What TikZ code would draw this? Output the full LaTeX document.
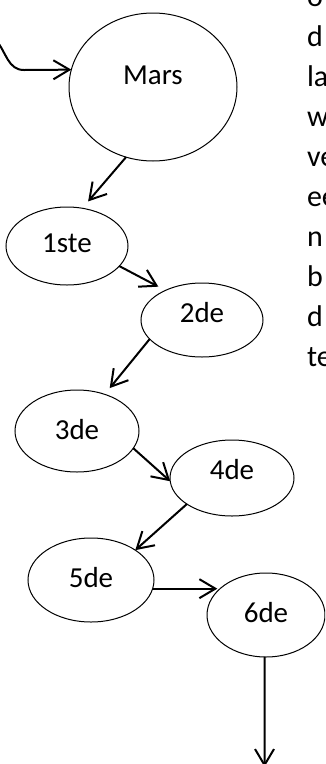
\documentclass[tikz,border=0pt]{standalone}
\usepackage{fontspec}
\setmainfont{Carlito}
\usetikzlibrary{arrows.meta,shapes.geometric}
\begin{document}
\begin{tikzpicture}[x=1pt,y=-1pt,inner sep=0pt,outer sep=0pt,line width=2pt,
>={Straight Barb[length=16pt,width=19pt]},font=\fontsize{29}{35}\selectfont,
stage/.style={draw,ellipse,line width=1pt,text height=20pt,text depth=#1},
sidetext/.style={anchor=base west,font=\fontsize{30}{36}\selectfont}]
\useasboundingbox (0,0) rectangle (325,764);
\clip (0,0) rectangle (325,764);
\draw (153,87) node[stage=26pt,minimum width=168pt,minimum height=148pt] (M) {Mars};
\draw (67,246) node[stage=8pt,minimum width=122pt,minimum height=78pt] (S1) {1ste};
\draw (202,320) node[stage=16pt,minimum width=122pt,minimum height=74pt] (S2) {2de};
\draw (77,431) node[stage=4pt,minimum width=124pt,minimum height=82pt] (S3) {3de};
\draw (232,478) node[stage=18pt,minimum width=124pt,minimum height=76pt] (S4) {4de};
\draw (91,580) node[stage=6pt,minimum width=126pt,minimum height=84pt] (S5) {5de};
\draw (266,615) node[stage=6pt,minimum width=118pt,minimum height=84pt] (S6) {6de};
\coordinate (entry) at (-4,40);
\coordinate (bend) at (24,70);
\coordinate (exit) at (264.5,767);
\draw[->] (entry) to[out=-50,in=180] (bend) -- (M.168);
\draw[->,shorten >=9pt] (M.249) -- (S1.68);
\draw[->,shorten >=8pt] (S1.-21) -- (S2.141);
\draw[->,shorten >=8pt] (S2.200) -- (S3.53);
\draw[->] (S3.-17) -- (S4.183);
\draw[->] (S4.210) -- (S5.34);
\draw[->] (S5.-8) -- (S5.-8 -| S6.154);
\draw[->] (S6.268) -- (exit);
\foreach \w [count=\i from 0] in {o,d,la,w,ve,ee,n,b,d,te}
  \draw (307,{6+40*\i}) node[sidetext] (r\i) {\w};
\end{tikzpicture}
\end{document}
